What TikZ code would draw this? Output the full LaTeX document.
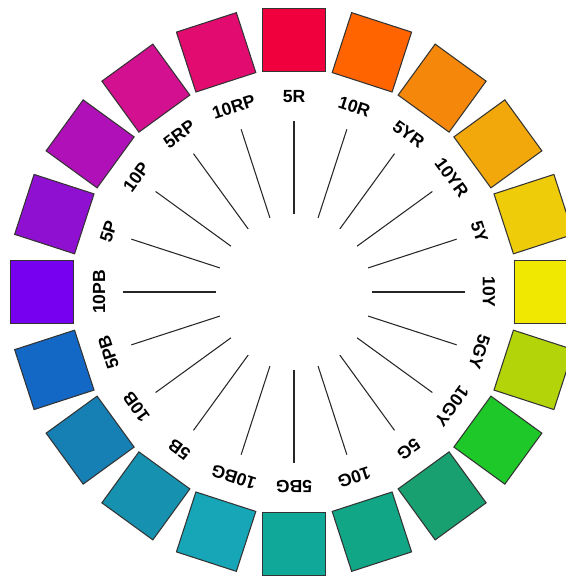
\documentclass[tikz,border=0pt]{standalone}
\usepackage{fontspec}
\setmainfont{Liberation Sans}
\usetikzlibrary{positioning, calc}
\definecolor{Hue5R}{RGB}{240, 0, 60}
\definecolor{Hue10R}{RGB}{255, 100, 0}
\definecolor{Hue5YR}{RGB}{245, 136, 10}
\definecolor{Hue10YR}{RGB}{242, 168, 10}
\definecolor{Hue5Y}{RGB}{238, 204, 10}
\definecolor{Hue10Y}{RGB}{240, 232, 0}
\definecolor{Hue5GY}{RGB}{180, 212, 10}
\definecolor{Hue10GY}{RGB}{30, 200, 40}
\definecolor{Hue5G}{RGB}{24, 160, 112}
\definecolor{Hue10G}{RGB}{16, 166, 134}
\definecolor{Hue5BG}{RGB}{16, 168, 152}
\definecolor{Hue10BG}{RGB}{22, 166, 184}
\definecolor{Hue5B}{RGB}{22, 146, 176}
\definecolor{Hue10B}{RGB}{22, 128, 180}
\definecolor{Hue5PB}{RGB}{18, 104, 196}
\definecolor{Hue10PB}{RGB}{120, 0, 240}
\definecolor{Hue5P}{RGB}{144, 16, 210}
\definecolor{Hue10P}{RGB}{176, 16, 184}
\definecolor{Hue5RP}{RGB}{210, 16, 144}
\definecolor{Hue10RP}{RGB}{226, 12, 112}

\begin{document}
\begin{tikzpicture}[
    chip/.style={draw=black!80, line width=0.6pt, minimum size=1.26cm, inner sep=0pt},
    huelabel/.style={font=\fontsize{10}{12}\selectfont\bfseries, inner sep=0pt},
    ray/.style={black!85, line width=0.6pt}
  ]
    \useasboundingbox (-5.88,-5.68) rectangle (5.44,5.84);
    \clip (-5.88,-5.68) rectangle (5.44,5.84);
    \coordinate (centre) at (0,0);

    % Hue circle, clockwise from the top
    \foreach \hue [count=\i from 0] in {5R,10R,5YR,10YR,5Y,10Y,5GY,10GY,5G,10G,5BG,10BG,5B,10B,5PB,10PB,5P,10P,5RP,10RP} {
      \pgfmathsetmacro{\ang}{90-18*\i}
      % Spoke
      \draw[ray] ($(centre)+(\ang:1.56)$) -- ($(centre)+(\ang:3.42)$);
      % Label
      \node[huelabel, rotate=\ang-90] (lbl-\i) at ($(centre)+(\ang:3.9)$) {\hue};
      % Colour chip
      \node[chip, fill=Hue\hue, rotate=\ang-90] (chip-\i) at ($(centre)+(\ang:5.04)$) {};
    }
  \end{tikzpicture}
\end{document}
